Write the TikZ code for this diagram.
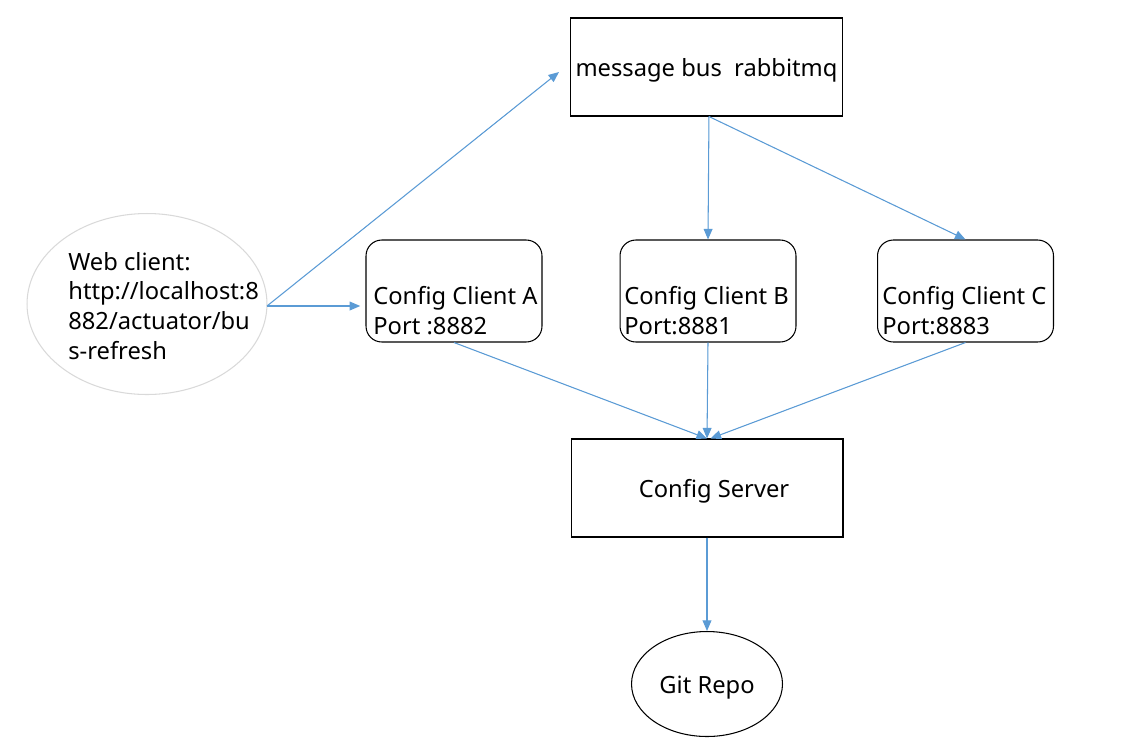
\documentclass[tikz,border=0pt]{standalone}
\usepackage{fontspec}
\setmainfont{Noto Sans}
\usepackage{xcolor}
\definecolor{busblue}{RGB}{91,155,213}
\definecolor{ringgray}{RGB}{217,217,217}
\usetikzlibrary{arrows.meta,shapes.geometric}

\begin{document}
\begin{tikzpicture}[x=0.02cm, y=-0.02cm,
    every node/.style={font=\fontsize{13.5}{17}\selectfont},
    box/.style={rectangle, draw=black, line width=0.6pt, minimum width=5.44cm, minimum height=1.96cm, inner sep=0pt, text height=10.8pt, text depth=0pt},
    client/.style={rectangle, draw=black, line width=0.6pt, rounded corners=9pt, minimum width=3.52cm, minimum height=2.04cm, inner sep=0pt},
    words/.style={align=left, inner sep=0pt, anchor=west},
    flow/.style={-{Triangle[length=6pt, width=5pt]}, draw=busblue, fill=busblue, line width=0.6pt}]
    \useasboundingbox (0,0) rectangle (1145,748);

    % Message bus
    \node[box] (bus) at (706.5, 67) {message bus\ \ rabbitmq};

    % Web client
    \node[ellipse, draw=ringgray, line width=0.6pt, minimum width=4.8cm, minimum height=3.62cm] (web) at (147, 304) {};
    \node[words] (webtext) at (68, 306) {Web client:\\http://localhost:8\\882/actuator/bu\\s-refresh};
    \coordinate (webout) at (267, 306);

    % Config clients
    \node[client] (ca) at (454, 291) {};
    \node[words] (catext) at (373, 311) {Config Client A\\Port :8882};
    \node[client] (cb) at (708, 291) {};
    \node[words] (cbtext) at (624, 311) {Config Client B\\Port:8881};
    \node[client] (cc) at (965.5, 291) {};
    \node[words] (cctext) at (882, 311) {Config Client C\\Port:8883};

    % Config server and repo
    \node[box] (server) at (707, 488) {\hspace*{8pt}Config Server};
    \node[ellipse, draw=black, line width=0.6pt, minimum width=3.02cm, minimum height=2.1cm, inner sep=0pt, text height=11pt, text depth=0pt] (git) at (707, 684) {Git Repo};

    % Flow
    \coordinate (busin) at (559, 72);
    \draw[flow] (webout) -- (busin);
    \draw[flow, shorten >=3pt] (webout) -- (ca.west |- webout);
    \draw[flow] ([xshift=1.4pt]bus.south) -- (cb.north);
    \draw[flow] ([xshift=1.4pt]bus.south) -- (cc.north);
    \draw[flow] (ca.south) -- (server.north);
    \draw[flow] (cb.south) -- (server.north);
    \draw[flow] (cc.south) -- ([xshift=2pt]server.north);
    \draw[flow] (server.south) -- (git.north);
\end{tikzpicture}
\end{document}
